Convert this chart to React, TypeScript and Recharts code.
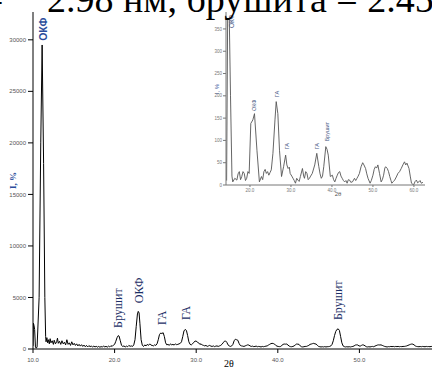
import React from 'react';
import { LineChart, Line, XAxis, YAxis, ReferenceDot } from 'recharts';

// Main XRD pattern: [2θ, intensity]
const mainPattern: [number, number][] = [
  [10.0, 300], [10.05, 2500], [10.12, 2300], [10.2, 1900], [10.3, 200], [10.4, 80], [10.5, 200],
  [10.75, 5000], [10.95, 20000], [11.12, 29500], [11.3, 18000], [11.45, 5000], [11.55, 1200],
  [11.6, 700], [11.7, 1100], [11.8, 600], [11.9, 900], [12.0, 500], [12.1, 1000], [12.2, 600],
  [12.35, 800], [12.5, 450], [12.6, 850], [12.75, 500], [12.9, 700], [13.0, 1050], [13.1, 550],
  [13.25, 750], [13.4, 450], [13.55, 800], [13.7, 500], [13.85, 650], [14.0, 400], [14.15, 900],
  [14.3, 450], [14.45, 600], [14.6, 350], [14.75, 700], [14.9, 400], [15.05, 550], [15.2, 350],
  [15.35, 500], [15.5, 300], [15.65, 450], [15.8, 280], [15.95, 420], [16.1, 250], [16.25, 380],
  [16.4, 220], [16.55, 350], [16.7, 200], [16.85, 330], [17.0, 220], [17.15, 300], [17.3, 180],
  [17.45, 280], [17.6, 200], [17.75, 260], [17.9, 180], [18.05, 250], [18.2, 170], [18.35, 240],
  [18.5, 180], [18.65, 300], [18.8, 200], [18.95, 260], [19.1, 180], [19.25, 280], [19.4, 200],
  [19.55, 320], [19.7, 250], [19.85, 380], [20.0, 450], [20.15, 750], [20.3, 1100], [20.45, 1300],
  [20.55, 1250], [20.7, 800], [20.85, 350], [21.0, 250], [21.15, 300], [21.3, 200], [21.45, 280],
  [21.6, 220], [21.75, 350], [21.9, 260], [22.05, 300], [22.2, 250], [22.35, 400], [22.5, 900],
  [22.65, 2200], [22.8, 3400], [22.9, 3650], [23.0, 3500], [23.1, 2500], [23.25, 900], [23.4, 350],
  [23.55, 250], [23.7, 400], [23.85, 300], [24.0, 450], [24.15, 350], [24.3, 500], [24.45, 380],
  [24.6, 350], [24.75, 300], [24.9, 400], [25.05, 350], [25.2, 500], [25.35, 900], [25.5, 1400],
  [25.65, 1550], [25.8, 1500], [25.95, 1580], [26.1, 1200], [26.25, 600], [26.4, 400], [26.55, 450],
  [26.7, 350], [26.85, 500], [27.0, 400], [27.15, 450], [27.3, 380], [27.45, 500], [27.6, 420],
  [27.75, 450], [27.9, 500], [28.05, 550], [28.2, 700], [28.35, 1200], [28.5, 1750], [28.65, 1900],
  [28.8, 1800], [28.95, 1300], [29.1, 700], [29.25, 450], [29.4, 400], [29.55, 500], [29.7, 650],
  [29.85, 750], [30.0, 780], [30.15, 650], [30.3, 600], [30.45, 450], [30.6, 500], [30.75, 380],
  [30.9, 350], [31.05, 300], [31.2, 350], [31.35, 250], [31.5, 300], [31.65, 350], [31.8, 280],
  [31.95, 250], [32.1, 300], [32.25, 230], [32.4, 280], [32.55, 300], [32.7, 250], [32.85, 300],
  [33.0, 350], [33.15, 450], [33.3, 600], [33.45, 750], [33.6, 780], [33.75, 650], [33.9, 400],
  [34.05, 300], [34.2, 250], [34.35, 300], [34.5, 450], [34.65, 800], [34.8, 950], [34.95, 900],
  [35.1, 850], [35.25, 550], [35.4, 350], [35.55, 300], [35.7, 280], [35.85, 250], [36.0, 300],
  [36.15, 350], [36.3, 400], [36.45, 380], [36.6, 300], [36.75, 250], [36.9, 280], [37.05, 230],
  [37.2, 250], [37.35, 280], [37.5, 220], [37.65, 250], [37.8, 230], [37.95, 200], [38.1, 250],
  [38.25, 220], [38.4, 250], [38.55, 280], [38.7, 300], [38.85, 380], [39.0, 450], [39.15, 520],
  [39.3, 550], [39.45, 530], [39.6, 480], [39.75, 350], [39.9, 280], [40.05, 250], [40.2, 230],
  [40.35, 250], [40.5, 350], [40.65, 450], [40.8, 480], [40.95, 470], [41.1, 480], [41.25, 380],
  [41.4, 280], [41.55, 230], [41.7, 220], [41.85, 250], [42.0, 300], [42.15, 400], [42.3, 480],
  [42.45, 470], [42.6, 450], [42.75, 300], [42.9, 220], [43.05, 200], [43.2, 220], [43.35, 250],
  [43.5, 250], [43.65, 300], [43.8, 350], [43.95, 450], [44.1, 480], [44.25, 520], [44.4, 550],
  [44.55, 500], [44.7, 480], [44.85, 350], [45.0, 250], [45.15, 220], [45.3, 200], [45.45, 220],
  [45.6, 200], [45.75, 230], [45.9, 200], [46.05, 220], [46.2, 230], [46.35, 250], [46.5, 300],
  [46.65, 450], [46.8, 800], [46.95, 1300], [47.1, 1700], [47.25, 1900], [47.4, 1950], [47.55, 1800],
  [47.7, 1200], [47.85, 600], [48.0, 300], [48.15, 230], [48.3, 200], [48.45, 220], [48.6, 200],
  [48.75, 220], [48.9, 200], [49.05, 230], [49.2, 250], [49.35, 300], [49.5, 380], [49.65, 400],
  [49.8, 390], [49.95, 300], [50.1, 280], [50.25, 350], [50.4, 400], [50.55, 380], [50.7, 300],
  [50.85, 220], [51.0, 200], [51.15, 220], [51.3, 200], [51.45, 230], [51.6, 250], [51.75, 220],
  [51.9, 280], [52.05, 330], [52.2, 380], [52.35, 400], [52.5, 390], [52.65, 400], [52.8, 350],
  [52.95, 300], [53.1, 250], [53.25, 220], [53.4, 200], [53.55, 230], [53.7, 220], [53.85, 250],
  [54.0, 230], [54.15, 250], [54.3, 220], [54.45, 250], [54.6, 230], [54.75, 250], [54.9, 220],
  [55.05, 240], [55.2, 230], [55.35, 250], [55.5, 250], [55.65, 270], [55.8, 300], [55.95, 350],
  [56.1, 400], [56.25, 450], [56.4, 480], [56.55, 470], [56.7, 400], [56.85, 300], [57.0, 250],
  [57.15, 230], [57.3, 220], [57.45, 240], [57.6, 220], [57.75, 250], [57.9, 230], [58.05, 220],
  [58.2, 250], [58.35, 230], [58.5, 240], [58.65, 220], [58.8, 250], [58.95, 230], [59.1, 240],
  [59.25, 220], [59.4, 250], [59.55, 230], [59.7, 240], [59.85, 220], [60.0, 230],
];

// Inset pattern: [2θ, intensity]
const insetPattern: [number, number][] = [
  [14.3, 10], [14.55, 370], [14.95, 375], [15.25, 200], [15.6, 20], [15.8, 7], [16.3, 15], [16.8, 11],
  [17.1, 25], [17.4, 30], [17.7, 12], [18.0, 19], [18.3, 30], [18.6, 26], [18.9, 10], [19.2, 15],
  [19.5, 30], [19.8, 26], [20.2, 138], [20.7, 146], [21.1, 160], [21.7, 78], [22.3, 7], [22.8, 19],
  [23.1, 12], [23.4, 30], [23.7, 35], [24.0, 26], [24.3, 30], [24.6, 22], [24.9, 28], [25.2, 34],
  [25.6, 71], [26.1, 146], [26.4, 187], [26.8, 160], [27.2, 78], [27.7, 19], [28.2, 41], [28.7, 67],
  [29.0, 45], [29.3, 37], [29.6, 40], [29.8, 26], [30.2, 20], [30.5, 15], [30.8, 10], [31.1, 4],
  [31.4, 15], [31.7, 11], [32.0, 8], [32.3, 19], [32.8, 37], [33.1, 20], [33.3, 15], [33.6, 30],
  [33.9, 26], [34.2, 12], [34.5, 15], [34.8, 20], [35.2, 26], [35.8, 45], [36.3, 71], [36.8, 41],
  [37.1, 25], [37.4, 15], [37.7, 20], [38.0, 41], [38.5, 86], [38.8, 80], [39.1, 67], [39.6, 19],
  [40.1, 22], [40.4, 12], [40.7, 7], [41.0, 15], [41.3, 22], [41.6, 28], [41.9, 30], [42.2, 20],
  [42.5, 15], [42.8, 10], [43.1, 7], [43.4, 10], [43.7, 4], [44.0, 12], [44.3, 11], [44.6, 6],
  [45.0, 7], [45.5, 15], [45.8, 10], [46.1, 15], [46.4, 20], [46.7, 26], [47.1, 41], [47.5, 50],
  [47.8, 45], [48.2, 37], [48.5, 25], [48.8, 15], [49.3, 4], [49.6, 10], [50.0, 22], [50.3, 35],
  [50.6, 41], [50.9, 38], [51.2, 45], [51.6, 26], [52.0, 7], [52.3, 12], [52.6, 22], [52.9, 38],
  [53.1, 41], [53.5, 37], [53.8, 30], [54.1, 19], [54.4, 10], [54.6, 4], [55.0, 8], [55.3, 11],
  [55.7, 18], [56.1, 26], [56.5, 30], [56.9, 37], [57.3, 45], [57.7, 52], [58.0, 45], [58.3, 49],
  [58.8, 37], [59.1, 20], [59.4, 4], [59.9, 0], [60.3, 8], [60.6, 11], [60.9, 5], [61.2, 7],
  [61.5, 10], [61.8, 4], [62.2, 6],
];

const mainXTicks = [10, 20, 30, 40, 50];
const mainYTicks = [0, 5000, 10000, 15000, 20000, 25000, 30000];
const insetXTicks = [20, 30, 40, 50, 60];
const insetYTicks = [0, 50, 100, 150, 200, 250, 300, 350];

// peak annotations: name, 2θ, intensity where the label starts
const mainPeakNames = ['ОКФ', 'Брушит', 'ОКФ', 'ГА', 'ГА', 'Брушит'];
const mainPeakAngles = [11.2, 20.45, 22.95, 25.8, 28.75, 47.4];
const mainPeakBases = [29900, 2050, 4450, 2330, 2810, 2810];

const insetPeakNames = ['ОКФ', 'ОКФ', 'ГА', 'ГА', 'ГА', 'Брушит'];
const insetPeakAngles = [15.5, 21.0, 26.5, 29.0, 36.4, 38.7];
const insetPeakBases = [352, 166, 197, 80, 80, 98];

const titleLeft = '=';
const titleText = '2.98 нм, брушита = 2.45 нм';

const mainData = mainPattern.map(([a, v]) => ({ a, v }));
const insetData = insetPattern.map(([a, v]) => ({ a, v }));

const SANS = '"Liberation Sans", Arial, sans-serif';
const SERIF = '"Liberation Serif", "Times New Roman", serif';

const vLabel = (text: string, size: number, color: string, family: string, weight: string = 'normal') =>
  (p: any) => (
    <text
      x={p.cx}
      y={p.cy}
      transform={`rotate(-90 ${p.cx} ${p.cy})`}
      fontSize={size}
      fill={color}
      fontFamily={family}
      fontWeight={weight}
      dominantBaseline="central"
      textAnchor="start"
    >
      {text}
    </text>
  );

export default function App() {
  return (
    <div style={{ position: 'absolute', left: 0, top: 0, width: 432, height: 369, overflow: 'hidden', background: '#fff' }}>
      <div style={{ position: 'absolute', left: 0, top: 0 }}>
        <LineChart width={441} height={369} data={mainData} margin={{ top: 12, right: 0, bottom: 0, left: 0 }}>
          <XAxis
            dataKey="a"
            type="number"
            domain={[10, 60]}
            allowDataOverflow
            ticks={mainXTicks}
            tickFormatter={(v: number) => v.toFixed(1)}
            height={20}
            tickSize={4}
            tickMargin={5}
            stroke="#000"
            tick={{ fontSize: 6, fill: '#555', fontFamily: SANS }}
            label={{
              content: (p: any) => (
                <text x={p.viewBox.x + p.viewBox.width * 0.48} y={367} fontSize={10} fontFamily={SERIF} fill="#000" textAnchor="middle">
                  2θ
                </text>
              ),
            }}
          />
          <YAxis
            type="number"
            domain={[0, 32700]}
            allowDataOverflow
            ticks={mainYTicks}
            width={33}
            tickSize={5}
            tickMargin={2}
            stroke="#000"
            tick={{ fontSize: 6, fill: '#555', fontFamily: SANS }}
            label={{
              content: (p: any) => {
                const x = p.viewBox.x + 13;
                const y = p.viewBox.y + p.viewBox.height * 0.5;
                return (
                  <text x={x} y={y} transform={`rotate(-90 ${x} ${y})`} fontSize={9} fontWeight="bold" fontFamily={SERIF} fill="#2a4d9b" textAnchor="middle" dominantBaseline="central">
                    I, %
                  </text>
                );
              },
            }}
          />
          <Line dataKey="v" type="linear" dot={false} stroke="#000" strokeWidth={1} isAnimationActive={false} />
          {mainPeakNames.map((n, i) => (
            <ReferenceDot
              key={i}
              x={mainPeakAngles[i]}
              y={mainPeakBases[i]}
              r={1}
              ifOverflow="visible"
              shape={i === 0 ? vLabel(n, 10.5, '#2a4d9b', SANS, 'bold') : vLabel(n, 12, '#1c2f66', SERIF)}
            />
          ))}
        </LineChart>
      </div>
      <div style={{ position: 'absolute', left: 200, top: 0 }}>
        <LineChart width={225} height={200} data={insetData} margin={{ top: 12, right: 0, bottom: 0, left: 0 }}>
          <XAxis
            dataKey="a"
            type="number"
            domain={[14.15, 62.7]}
            allowDataOverflow
            ticks={insetXTicks}
            tickFormatter={(v: number) => v.toFixed(1)}
            height={15}
            tickSize={2}
            tickMargin={2}
            stroke="#777"
            tick={{ fontSize: 4.5, fill: '#777', fontFamily: SANS }}
            label={{
              content: (p: any) => (
                <text x={138} y={196} fontSize={6} fontFamily={SANS} fill="#555" textAnchor="middle">
                  2θ
                </text>
              ),
            }}
          />
          <YAxis
            type="number"
            domain={[0, 388]}
            allowDataOverflow
            ticks={insetYTicks}
            width={26}
            tickSize={3}
            tickMargin={1}
            stroke="#777"
            tick={{ fontSize: 4.5, fill: '#777', fontFamily: SANS }}
            label={{
              content: (p: any) => {
                const x = 17;
                const y = 89;
                return (
                  <text x={x} y={y} transform={`rotate(-90 ${x} ${y})`} fontSize={6} fontFamily={SANS} fill="#3a5aa0" textAnchor="middle" dominantBaseline="central">
                    I, %
                  </text>
                );
              },
            }}
          />
          <Line dataKey="v" type="linear" dot={false} stroke="#555" strokeWidth={0.9} isAnimationActive={false} />
          {insetPeakNames.map((n, i) => (
            <ReferenceDot
              key={i}
              x={insetPeakAngles[i]}
              y={insetPeakBases[i]}
              r={1}
              ifOverflow="visible"
              shape={vLabel(n, i === 0 ? 6.5 : 5.5, '#4a5a86', SANS)}
            />
          ))}
        </LineChart>
      </div>
      <svg width={432} height={369} style={{ position: 'absolute', left: 0, top: 0, pointerEvents: 'none' }}>
        <text x={-18} y={12} fontSize={38} fontFamily={SERIF} fill="#000">{titleLeft}</text>
        <text x={47} y={12} fontSize={38} fontFamily={SERIF} fill="#000">{titleText}</text>
      </svg>
    </div>
  );
}
